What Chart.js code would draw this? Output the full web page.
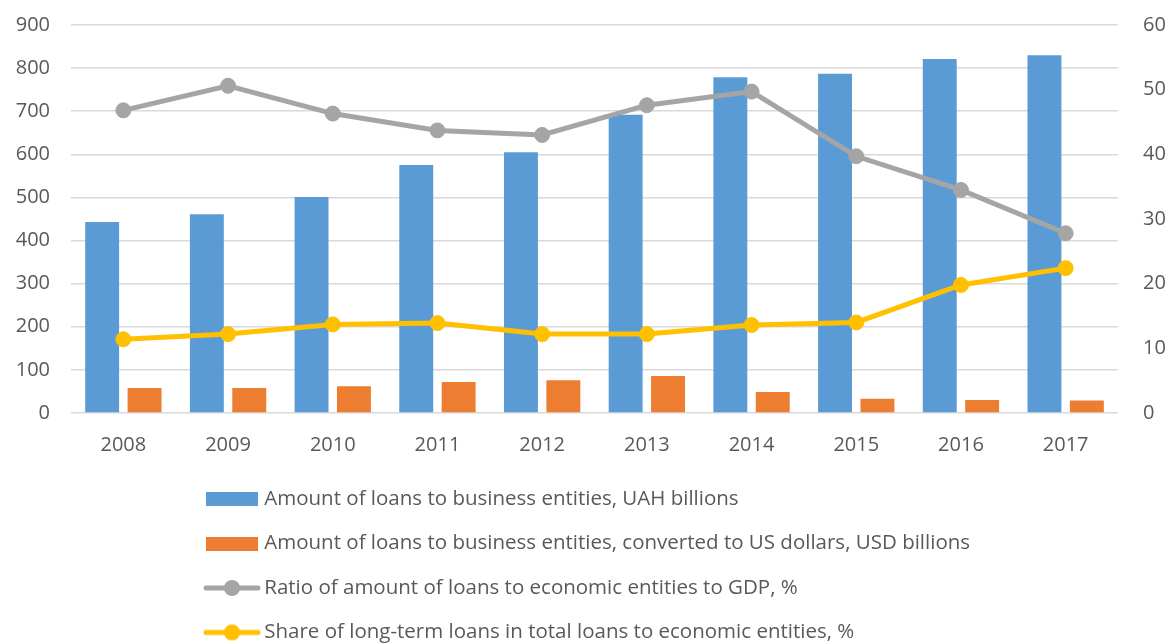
<!DOCTYPE html>
<html>
<head>
<meta charset="utf-8">
<script src="https://cdn.jsdelivr.net/npm/chart.js@4.4.1/dist/chart.umd.min.js"></script>
<style>
  html, body { margin: 0; padding: 0; background: #ffffff; }
  #wrap { width: 1174px; height: 644px; }
</style>
</head>
<body>
<div id="wrap"><canvas id="c" width="1174" height="644"></canvas></div>
<script>
const years = ['2008','2009','2010','2011','2012','2013','2014','2015','2016','2017'];
const loansUAH = [443, 461, 501, 575, 605, 692, 779, 787, 821, 830];
const loansUSD = [58, 58, 62, 72, 76, 86, 49, 33, 30, 29];
const ratioGDP = [46.8, 50.6, 46.3, 43.7, 43.0, 47.6, 49.7, 39.7, 34.5, 27.8];
const longTermShare = [11.4, 12.2, 13.7, 13.9, 12.2, 12.2, 13.6, 14.0, 19.8, 22.4];
const seriesNames = [
  'Amount of loans to business entities, UAH billions',
  'Amount of loans to business entities, converted to US dollars, USD billions',
  'Ratio of amount of loans to economic entities to GDP, %',
  'Share of long-term loans in total loans to economic entities, %'
];

const BLUE = '#5B9BD5', ORANGE = '#ED7D31', GRAY = '#A5A5A5', YELLOW = '#FFC000';
const TEXT = '#595959';
const FONT = "'Open Sans', 'Noto Sans', sans-serif";
const LEG_FONT = 20.5, LEG_PAD = 24;

function boxIcon(color) {
  const c = document.createElement('canvas');
  c.width = 52; c.height = 14;
  const x = c.getContext('2d');
  x.fillStyle = color; x.fillRect(0, 0, 52, 14);
  return c;
}
function lineIcon(color) {
  const c = document.createElement('canvas');
  c.width = 58; c.height = 18;
  const x = c.getContext('2d');
  x.strokeStyle = color; x.lineWidth = 5; x.lineCap = 'round';
  x.beginPath(); x.moveTo(3, 9); x.lineTo(55, 9); x.stroke();
  x.fillStyle = color; x.beginPath(); x.arc(29, 9, 8, 0, Math.PI * 2); x.fill();
  return c;
}
const icons = [boxIcon(BLUE), boxIcon(ORANGE), lineIcon(GRAY), lineIcon(YELLOW)];

const legendPlace = {
  id: 'legendPlace',
  afterLayout(chart) {
    const lg = chart.legend;
    if (!lg) return;
    lg.left = 210 - LEG_PAD;
    lg.top = 499 - LEG_PAD - LEG_FONT / 2;
    lg.bottom = 644;
    lg.height = lg.bottom - lg.top;
  }
};

new Chart(document.getElementById('c'), {
  data: {
    labels: years,
    datasets: [
      { type: 'bar', label: seriesNames[0], data: loansUAH, backgroundColor: BLUE, yAxisID: 'y', order: 2,
        categoryPercentage: 0.81, barPercentage: 0.8 },
      { type: 'bar', label: seriesNames[1], data: loansUSD, backgroundColor: ORANGE, yAxisID: 'y', order: 2,
        categoryPercentage: 0.81, barPercentage: 0.8 },
      { type: 'line', label: seriesNames[2], data: ratioGDP, borderColor: GRAY, backgroundColor: GRAY,
        borderWidth: 5, pointRadius: 7.5, pointHoverRadius: 7.5, pointBorderWidth: 1,
        pointBackgroundColor: GRAY, pointBorderColor: GRAY, tension: 0, yAxisID: 'y1', order: 1 },
      { type: 'line', label: seriesNames[3], data: longTermShare, borderColor: YELLOW, backgroundColor: YELLOW,
        borderWidth: 5, pointRadius: 7.5, pointHoverRadius: 7.5, pointBorderWidth: 1,
        pointBackgroundColor: YELLOW, pointBorderColor: YELLOW, tension: 0, yAxisID: 'y1', order: 0 }
    ]
  },
  options: {
    responsive: false,
    animation: false,
    devicePixelRatio: 1,
    layout: { padding: { top: 25, left: 0, right: 0, bottom: -12 } },
    scales: {
      x: {
        grid: { display: false },
        border: { display: false },
        ticks: { color: TEXT, font: { family: FONT, size: 20 }, padding: 12 },
        afterFit(s) { s.height = 55; }
      },
      y: {
        position: 'left', min: 0, max: 900,
        grid: { color: '#D9D9D9', lineWidth: 1.5, drawTicks: true, tickLength: 20, tickColor: 'rgba(0,0,0,0)' },
        border: { display: false },
        ticks: { stepSize: 100, color: TEXT, font: { family: FONT, size: 20 }, padding: 1 },
        afterFit(s) { s.width = 71; }
      },
      y1: {
        position: 'right', min: 0, max: 60,
        grid: { display: true, drawOnChartArea: false, drawTicks: true, tickLength: 24,
                color: 'rgba(0,0,0,0)', tickColor: 'rgba(0,0,0,0)' },
        border: { display: false },
        ticks: { stepSize: 10, color: TEXT, font: { family: FONT, size: 20 }, padding: 1 },
        afterFit(s) { s.width = 56; }
      }
    },
    plugins: {
      tooltip: { enabled: false },
      legend: {
        position: 'bottom',
        align: 'start',
        labels: {
          usePointStyle: true,
          pointStyleWidth: 44,
          padding: LEG_PAD,
          color: TEXT,
          font: { family: FONT, size: LEG_FONT },
          generateLabels(chart) {
            const items = Chart.defaults.plugins.legend.labels.generateLabels(chart);
            items.sort((a, b) => a.datasetIndex - b.datasetIndex);
            items.forEach(it => { it.pointStyle = icons[it.datasetIndex]; });
            return items;
          }
        }
      }
    }
  },
  plugins: [legendPlace]
});
</script>
</body>
</html>
